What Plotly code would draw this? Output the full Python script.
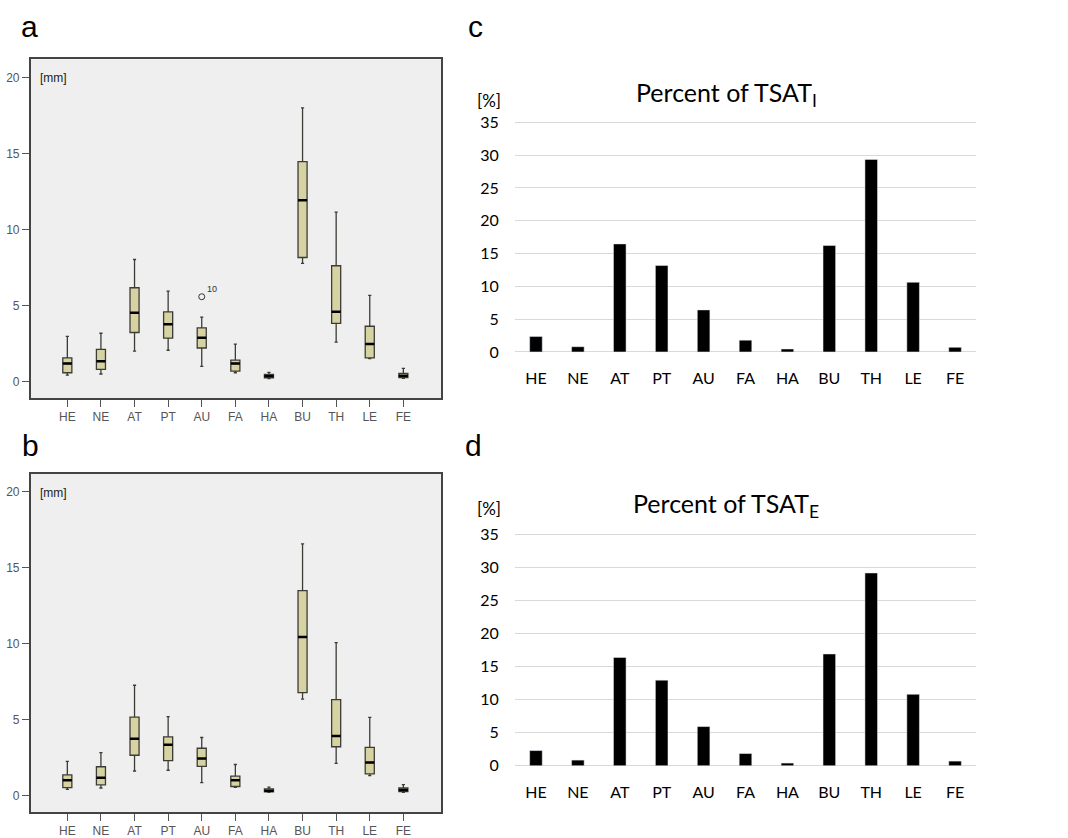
import plotly.graph_objects as go

cats = ["HE", "NE", "AT", "PT", "AU", "FA", "HA", "BU", "TH", "LE", "FE"]

# Panel a: box statistics [mm]
a_low = [0.43, 0.50, 2.01, 2.06, 1.00, 0.58, 0.20, 7.77, 2.60, 1.52, 0.22]
a_q1 = [0.58, 0.80, 3.23, 2.86, 2.21, 0.69, 0.24, 8.16, 3.83, 1.56, 0.26]
a_med = [1.19, 1.34, 4.52, 3.77, 2.88, 1.19, 0.35, 11.93, 4.59, 2.47, 0.39]
a_q3 = [1.56, 2.12, 6.17, 4.59, 3.53, 1.41, 0.48, 14.46, 7.62, 3.64, 0.54]
a_high = [2.97, 3.18, 8.03, 5.95, 4.24, 2.47, 0.60, 18.00, 11.15, 5.67, 0.87]
a_outlier_cat = ["AU"]
a_outlier_val = [5.58]
a_outlier_lbl = ["10"]

# Panel b: box statistics [mm]
b_low = [0.39, 0.48, 1.60, 1.65, 0.84, 0.52, 0.20, 6.34, 2.10, 1.30, 0.20]
b_q1 = [0.50, 0.69, 2.64, 2.29, 1.90, 0.58, 0.22, 6.77, 3.20, 1.41, 0.24]
b_med = [1.00, 1.15, 3.72, 3.33, 2.42, 1.00, 0.30, 10.43, 3.90, 2.16, 0.35]
b_q3 = [1.34, 1.88, 5.15, 3.85, 3.10, 1.26, 0.43, 13.48, 6.30, 3.16, 0.48]
b_high = [2.23, 2.81, 7.25, 5.19, 3.81, 2.03, 0.54, 16.56, 10.06, 5.13, 0.71]

# Panel c / d: percent of TSAT
c_pct = [2.35, 0.80, 16.47, 13.17, 6.41, 1.80, 0.45, 16.22, 29.34, 10.62, 0.70]
d_pct = [2.29, 0.85, 16.37, 12.94, 5.92, 1.84, 0.40, 16.90, 29.15, 10.80, 0.70]

box_ticks = [0, 5, 10, 15, 20]
bar_ticks = [0, 5, 10, 15, 20, 25, 30, 35]

W, H = 1068, 838
BOX_W = 0.27
BOX_FILL = "#d7d2a1"
BOX_LINE = "#3c3c36"
SANS = "Arial, Liberation Sans, sans-serif"
CAL = "Lato, Open Sans, sans-serif"

idx = list(range(len(cats)))

fig = go.Figure()


def add_box_panel(low, q1, med, q3, high, xa, ya):
    fig.add_trace(go.Box(
        x=idx, lowerfence=low, q1=q1, median=med, q3=q3, upperfence=high,
        width=BOX_W, whiskerwidth=0.35, fillcolor=BOX_FILL,
        line=dict(color=BOX_LINE, width=1.3), boxpoints=False,
        showlegend=False, hoverinfo="skip", xaxis=xa, yaxis=ya))
    mx, my = [], []
    for i, m in zip(idx, med):
        mx += [i - BOX_W / 2, i + BOX_W / 2, None]
        my += [m, m, None]
    fig.add_trace(go.Scatter(
        x=mx, y=my, mode="lines", line=dict(color="black", width=2.5),
        showlegend=False, hoverinfo="skip", xaxis=xa, yaxis=ya))


add_box_panel(a_low, a_q1, a_med, a_q3, a_high, "x", "y")
add_box_panel(b_low, b_q1, b_med, b_q3, b_high, "x2", "y2")

fig.add_trace(go.Scatter(
    x=[cats.index(c) for c in a_outlier_cat], y=a_outlier_val,
    mode="markers", marker=dict(symbol="circle-open", size=6,
                                color="#333333", line=dict(width=1)),
    showlegend=False, hoverinfo="skip", xaxis="x", yaxis="y"))
for c, v, lbl in zip(a_outlier_cat, a_outlier_val, a_outlier_lbl):
    fig.add_annotation(x=cats.index(c), y=v, xref="x", yref="y", text=lbl,
                       showarrow=False, xanchor="left", yanchor="bottom",
                       xshift=3, yshift=1,
                       font=dict(family=SANS, size=9, color="#333333"))

fig.add_trace(go.Bar(x=cats, y=c_pct, marker=dict(color="black"), width=0.3,
                     showlegend=False, hoverinfo="skip", xaxis="x3", yaxis="y3"))
fig.add_trace(go.Bar(x=cats, y=d_pct, marker=dict(color="black"), width=0.3,
                     showlegend=False, hoverinfo="skip", xaxis="x4", yaxis="y4"))


def px_dom(a, b, total):
    return [a / total, b / total]


def py_dom(top, bottom):
    return [1 - bottom / H, 1 - top / H]


box_x = dict(range=[-1.09, 11.12], tickvals=idx, ticktext=cats,
             showgrid=False, zeroline=False, showline=True, mirror=True,
             linecolor="#444444", linewidth=1.5, ticks="outside", ticklen=7,
             tickcolor="#555555", tickfont=dict(family=SANS, size=12, color="#555555"))
box_y = dict(range=[-1.1, 21.2], tickvals=box_ticks, showgrid=False,
             zeroline=False, showline=True, mirror=True, linecolor="#444444",
             linewidth=1.5, ticks="outside", ticklen=7, tickcolor="#555555",
             tickfont=dict(family=SANS, size=12, color="#555555"))

bar_x = dict(showgrid=False, zeroline=False, showline=False, ticks="outside",
             ticklen=9, tickcolor="rgba(0,0,0,0)",
             tickfont=dict(family=CAL, size=16, color="black"))
bar_y = dict(range=[-0.5, 35.5], tickvals=bar_ticks, showgrid=True, gridcolor="#d9d9d9",
             gridwidth=1.3, zeroline=False, showline=False, ticks="outside",
             ticklen=12, tickcolor="rgba(0,0,0,0)",
             tickfont=dict(family=CAL, size=16, color="black"))

fig.update_layout(
    width=W, height=H, margin=dict(l=0, r=0, t=0, b=0),
    paper_bgcolor="white", plot_bgcolor="white",
    xaxis=dict(domain=px_dom(30.7, 441, W), anchor="y", **box_x),
    yaxis=dict(domain=py_dom(53, 397), anchor="x", **box_y),
    xaxis2=dict(domain=px_dom(30.7, 441, W), anchor="y2", **box_x),
    yaxis2=dict(domain=py_dom(473.3, 816.7), anchor="x2", **box_y),
    xaxis3=dict(domain=px_dom(515, 976, W), anchor="y3", **bar_x),
    yaxis3=dict(domain=py_dom(113.7, 353.3), anchor="x3", **bar_y),
    xaxis4=dict(domain=px_dom(515, 976, W), anchor="y4", **bar_x),
    yaxis4=dict(domain=py_dom(531.6, 773.1), anchor="x4", **bar_y),
)

for xa, ya in [("x", "y"), ("x2", "y2")]:
    fig.add_shape(type="rect", xref=f"{xa} domain", yref=f"{ya} domain",
                  x0=0, x1=1, y0=0, y1=1, fillcolor="#efefef",
                  line=dict(width=0), layer="below")
    fig.add_annotation(xref=f"{xa} domain", yref=f"{ya} domain", x=0.018, y=0.97,
                       text="[mm]", showarrow=False, xanchor="left", yanchor="top",
                       font=dict(family=SANS, size=12, color="#222222"))

# panel letters
for lbl, x, y in [("a", 29, 20), ("b", 30, 445), ("c", 475, 20), ("d", 473, 445)]:
    fig.add_annotation(xref="paper", yref="paper", x=x / W, y=1 - y / H, text=lbl,
                       showarrow=False, xanchor="center", yanchor="middle",
                       font=dict(family=SANS, size=30, color="black"))

# bar titles and unit labels
for txt, y in [("Percent of TSAT<sub>I</sub>", 88), ("Percent of TSAT<sub>E</sub>", 505)]:
    fig.add_annotation(xref="paper", yref="paper", x=726 / W, y=1 - y / H, text=txt,
                       showarrow=False, xanchor="center", yanchor="middle",
                       font=dict(family=CAL, size=25, color="black"))
for y in [95, 509]:
    fig.add_annotation(xref="paper", yref="paper", x=489 / W, y=1 - y / H, text="[%]",
                       showarrow=False, xanchor="center", yanchor="middle",
                       font=dict(family=CAL, size=17, color="black"))

fig.write_html("out.html")
